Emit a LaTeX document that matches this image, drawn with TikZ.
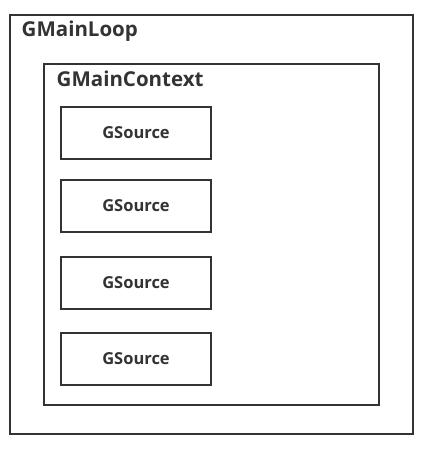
\documentclass[tikz,border=0pt]{standalone}
\usepackage{fontspec}
\setmainfont{Open Sans}
\usepackage{tikz}
\usetikzlibrary{positioning}

\definecolor{boxgray}{HTML}{333333}

\tikzset{
    frame/.style={draw=boxgray, line width=2pt, inner sep=0pt},
    srcbox/.style={frame, minimum width=150pt, minimum height=52pt, font=\fontsize{16.5}{19}\selectfont\bfseries, text=boxgray},
    title/.style={inner sep=0pt, anchor=base west, font=\fontsize{20.5}{24}\selectfont\bfseries, text=boxgray}
}

\begin{document}
\begin{tikzpicture}[x=1pt, y=-1pt]
    \useasboundingbox (0,0) rectangle (423,452);
    % Frames
    \node[frame, minimum width=403.5pt, minimum height=418.5pt] (loop) at (211.25,224.25) {};
    \node[frame, minimum width=335pt, minimum height=341pt] (context) at (211.5,234.5) {};

    % Titles
    \node[title] (looplabel) at (21.5,36.5) {GMainLoop};
    \node[title] (contextlabel) at (56.5,86.5) {GMainContext};

    % Sources
    \node[srcbox] (src1) at (136,132.5) {GSource};
    \node[srcbox] (src2) at (136,205.5) {GSource};
    \node[srcbox] (src3) at (136,283) {GSource};
    \node[srcbox] (src4) at (136,359) {GSource};
\end{tikzpicture}
\end{document}
